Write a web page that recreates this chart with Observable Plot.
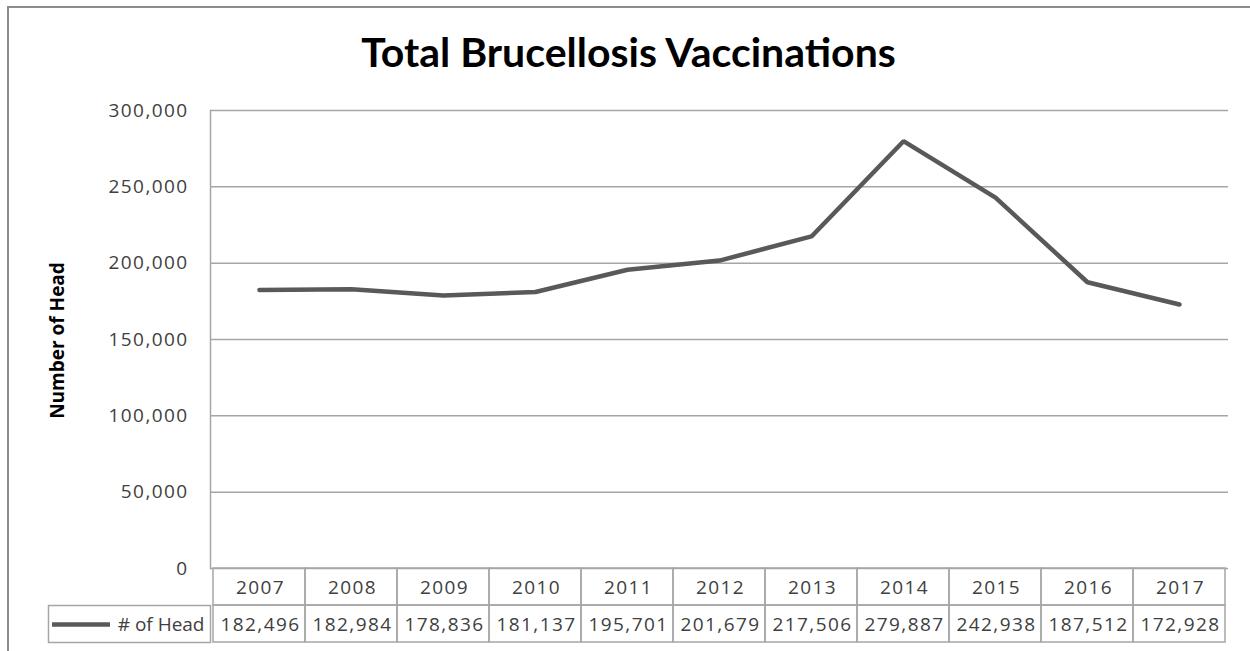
<!DOCTYPE html>
<html>
<head>
<meta charset="utf-8">
<script src="https://cdn.jsdelivr.net/npm/d3@7"></script>
<script src="https://cdn.jsdelivr.net/npm/@observablehq/plot@0.6"></script>
<style>
  html, body { margin: 0; padding: 0; background: #fff; overflow: hidden; }
  #wrap { position: relative; width: 1250px; height: 651px; }
  #border { position: absolute; left: 7px; top: 6px; width: 1300px; height: 700px;
            border: 2px solid #8c8c8c; pointer-events: none; box-sizing: border-box; }
  .num text { letter-spacing: 1.4px; }
</style>
</head>
<body>
<div id="wrap"><div id="border"></div></div>
<script>
const title = "Total Brucellosis Vaccinations";
const yLabel = "Number of Head";
const seriesName = "# of Head";
const years = ["2007", "2008", "2009", "2010", "2011", "2012", "2013", "2014", "2015", "2016", "2017"];
const heads = [182496, 182984, 178836, 181137, 195701, 201679, 217506, 279887, 242938, 187512, 172928];
const yTicks = [0, 50000, 100000, 150000, 200000, 250000, 300000];

const data = years.map((year, i) => ({year, value: heads[i]}));
const fmt = d3.format(",");
const grid = "#a6a6a6";
const txt = "#404040";
const lineColor = "#595959";

const chart = Plot.plot({
  width: 1250,
  height: 651,
  marginLeft: 210,
  marginRight: 22,
  marginTop: 110,
  marginBottom: 83,
  style: {fontFamily: "'Open Sans', sans-serif", fontSize: "19px", color: txt, background: "transparent", overflow: "visible"},
  x: {domain: years, padding: 0, axis: null},
  y: {domain: [0, 300000], axis: null},
  marks: [
    Plot.ruleY(yTicks, {stroke: grid, strokeWidth: 1.5}),
    Plot.frame({anchor: "left", stroke: grid, strokeWidth: 1.5}),
    Plot.axisY(yTicks, {tickSize: 0, tickPadding: 22, tickFormat: fmt, fontSize: 19, fill: txt, label: null, className: "num"}),
    // data table cells
    Plot.barY(data, {x: "year", y1: 0, y2: 0, insetBottom: -37, fill: "none", stroke: grid, strokeWidth: 1.5}),
    Plot.barY(data, {x: "year", y1: 0, y2: 0, insetTop: 37, insetBottom: -74, fill: "none", stroke: grid, strokeWidth: 1.5}),
    Plot.frame({insetLeft: -162, insetRight: 1018, insetTop: 495, insetBottom: -74, stroke: grid, strokeWidth: 1.5}),
    Plot.text(data, {x: "year", y: 0, dy: 19, dx: 1, text: "year", fill: txt, fontSize: 19, className: "num"}),
    Plot.text(data, {x: "year", y: 0, dy: 56, dx: 1, text: d => fmt(d.value), fill: txt, fontSize: 19, className: "num"}),
    Plot.text([seriesName], {frameAnchor: "bottom-left", lineAnchor: "middle", dy: 56, dx: -6, textAnchor: "end", fill: txt, fontSize: 19}),
    Plot.ruleY([0], {dy: 56, insetLeft: -158, insetRight: 1118, stroke: lineColor, strokeWidth: 4.5}),
    // series line
    Plot.line(data, {x: "year", y: "value", stroke: lineColor, strokeWidth: 4.5, strokeLinejoin: "miter"}),
    // titles
    Plot.text([title], {frameAnchor: "top", lineAnchor: "middle", dx: -91, dy: -57, fontSize: 41, fontWeight: "bold", fontFamily: "Lato", fill: "#000"}),
    Plot.text([yLabel], {frameAnchor: "left", lineAnchor: "middle", textAnchor: "middle", dx: -153, dy: 1, rotate: -90, fontSize: 19, fontWeight: "bold", fontFamily: "'Open Sans'", fill: "#000"})
  ]
});
document.getElementById("wrap").prepend(chart);
</script>
</body>
</html>
